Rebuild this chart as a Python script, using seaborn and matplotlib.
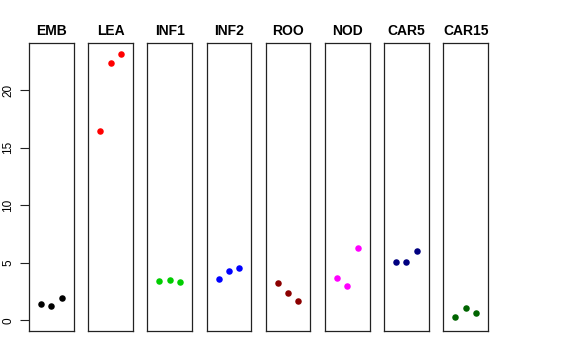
import numpy as np
import pandas as pd
import seaborn as sns
import matplotlib
matplotlib.use('Agg')
import matplotlib.pyplot as plt

# tissues, one panel each, three replicates per tissue
tissues = ["EMB", "LEA", "INF1", "INF2", "ROO", "NOD", "CAR5", "CAR15"]
colors = ["black", "red", "#00CD00", "blue", "#8B0000", "magenta", "#000080", "#006400"]

emb = [1.39, 1.28, 1.97]
lea = [16.46, 22.38, 23.16]
inf1 = [3.42, 3.54, 3.30]
inf2 = [3.59, 4.29, 4.52]
roo = [3.22, 2.41, 1.65]
nod = [3.65, 2.96, 6.29]
car5 = [5.07, 5.07, 6.00]
car15 = [0.32, 1.07, 0.64]

values = [emb, lea, inf1, inf2, roo, nod, car5, car15]
yticks = [0, 5, 10, 15, 20]

df = pd.DataFrame({
    "tissue": np.repeat(tissues, 3),
    "rep": np.tile([1, 2, 3], len(tissues)),
    "value": np.concatenate(values),
})

sns.set_theme(style="white", rc={"text.color": "black", "ytick.color": "black",
                                 "axes.labelcolor": "black"})
plt.rcParams['font.family'] = ['Liberation Sans', 'DejaVu Sans']

fig, axes = plt.subplots(1, len(tissues), figsize=(5.76, 3.6), dpi=100, sharey=True)
fig.subplots_adjust(left=29 / 576, right=488 / 576, bottom=29 / 360, top=317 / 360, wspace=0.326)

# R-style 4% padding around the data range (with 0 included)
lo, hi = 0, df["value"].max()
pad = 0.04 * (hi - lo)

for ax, name, col in zip(axes, tissues, colors):
    sub = df[df["tissue"] == name]
    sns.scatterplot(data=sub, x="rep", y="value", color=col, s=22, linewidth=0, ax=ax)
    ax.set_xlim(0 - 0.16, 4 + 0.16)
    ax.set_ylim(lo - pad, hi + pad)
    ax.set_title(name, fontsize=10, fontweight='bold', pad=6, color='black')
    ax.set_xlabel("")
    ax.set_ylabel("")
    ax.set_xticks([])
    for sp in ax.spines.values():
        sp.set_color('#222222')
        sp.set_linewidth(0.9)
    ax.tick_params(axis='y', left=False, labelleft=False)

axes[0].set_yticks(yticks)
axes[0].tick_params(axis='y', left=True, labelleft=True, length=6.5, width=0.8,
                    color='#222222', labelcolor='black', labelsize=8.5, pad=4)
plt.setp(axes[0].get_yticklabels(), rotation=90, va='center')

fig.savefig("out.png", dpi=100)
